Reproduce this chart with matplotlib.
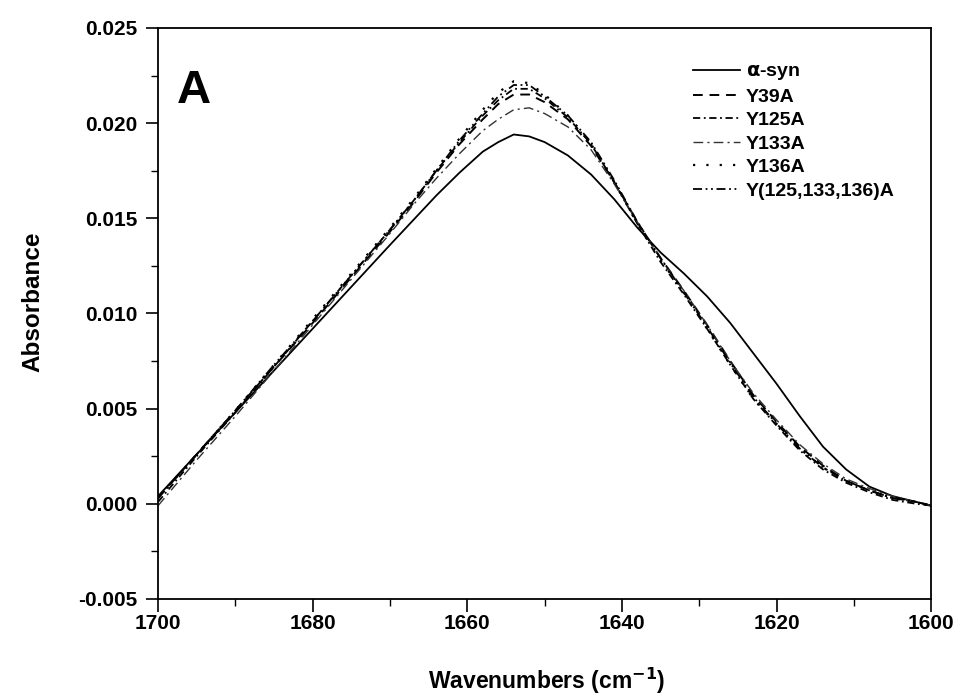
import numpy as np
import matplotlib
matplotlib.use("Agg")
import matplotlib.pyplot as plt
from matplotlib.ticker import MultipleLocator, FormatStrFormatter

plt.rcParams['font.family'] = ['Liberation Sans', 'DejaVu Sans']
plt.rcParams['font.weight'] = 'bold'
plt.rcParams['mathtext.default'] = 'bf'

# wavenumbers (cm-1)
wn = [1700, 1695, 1690, 1685, 1680, 1675, 1670, 1667, 1664, 1661, 1658, 1656,
      1654, 1652, 1650, 1647, 1644, 1641, 1638, 1635, 1632, 1629, 1626, 1623,
      1620, 1617, 1614, 1611, 1608, 1605, 1602, 1600]

asyn = [0.0004, 0.0026, 0.0048, 0.0070, 0.0092, 0.0114, 0.0136, 0.0149, 0.0162,
        0.0174, 0.0185, 0.0190, 0.0194, 0.0193, 0.0190, 0.0183, 0.0173, 0.0160,
        0.0145, 0.0132, 0.0121, 0.0109, 0.0095, 0.0079, 0.0063, 0.0046, 0.0030,
        0.0018, 0.0009, 0.0004, 0.0001, -0.0001]
y39a = [0.0003, 0.0026, 0.0049, 0.0072, 0.0095, 0.0119, 0.0143, 0.0158, 0.0174,
        0.0189, 0.0202, 0.0210, 0.0215, 0.0215, 0.0211, 0.0202, 0.0188, 0.0169,
        0.0148, 0.0129, 0.0112, 0.0094, 0.0075, 0.0057, 0.0043, 0.0030, 0.0020,
        0.0012, 0.0007, 0.0003, 0.0001, -0.0001]
y125a = [0.0001, 0.0025, 0.0048, 0.0072, 0.0096, 0.0120, 0.0144, 0.0159, 0.0175,
         0.0190, 0.0204, 0.0212, 0.0218, 0.0218, 0.0213, 0.0203, 0.0189, 0.0169,
         0.0147, 0.0127, 0.0110, 0.0092, 0.0073, 0.0055, 0.0041, 0.0028, 0.0018,
         0.0011, 0.0006, 0.0002, 0.0000, -0.0001]
y133a = [-0.0001, 0.0023, 0.0046, 0.0070, 0.0094, 0.0118, 0.0142, 0.0157, 0.0171,
         0.0184, 0.0196, 0.0202, 0.0207, 0.0208, 0.0205, 0.0198, 0.0186, 0.0168,
         0.0148, 0.0129, 0.0112, 0.0094, 0.0075, 0.0058, 0.0044, 0.0031, 0.0021,
         0.0013, 0.0008, 0.0004, 0.0001, -0.0001]
y136a = [0.0003, 0.0026, 0.0049, 0.0073, 0.0097, 0.0121, 0.0145, 0.0160, 0.0176,
         0.0192, 0.0207, 0.0216, 0.0222, 0.0221, 0.0215, 0.0204, 0.0189, 0.0169,
         0.0147, 0.0128, 0.0111, 0.0092, 0.0073, 0.0055, 0.0042, 0.0029, 0.0019,
         0.0012, 0.0007, 0.0003, 0.0001, -0.0001]
ytriple = [0.0003, 0.0026, 0.0049, 0.0073, 0.0096, 0.0120, 0.0144, 0.0159, 0.0175,
           0.0191, 0.0205, 0.0214, 0.0220, 0.0220, 0.0214, 0.0204, 0.0190, 0.0170,
           0.0148, 0.0129, 0.0111, 0.0093, 0.0074, 0.0056, 0.0042, 0.0029, 0.0019,
           0.0012, 0.0007, 0.0003, 0.0001, -0.0001]

labels = [r'$\alpha$-syn', 'Y39A', 'Y125A', 'Y133A', 'Y136A', 'Y(125,133,136)A']
series = [asyn, y39a, y125a, y133a, y136a, ytriple]
styles = ['-', (0, (5, 3.5)), (0, (4, 2, 1, 2)), (0, (7, 3, 1.5, 3)),
          (0, (1, 5)), (0, (5, 2, 1, 2, 1, 2))]
widths = [1.3, 1.4, 1.3, 1.0, 1.6, 1.3]
colors = ['black', 'black', 'black', '#333333', 'black', 'black']

fig = plt.figure(figsize=(9.64, 6.98), dpi=100)
ax = fig.add_axes([0.164, 0.142, 0.802, 0.818])

for ys, lab, ls, lw, c in zip(series, labels, styles, widths, colors):
    ax.plot(wn, ys, linestyle=ls, linewidth=lw, color=c, label=lab)

ax.set_xlim(1700, 1600)
ax.set_ylim(-0.005, 0.025)
ax.xaxis.set_major_locator(MultipleLocator(20))
ax.xaxis.set_minor_locator(MultipleLocator(10))
ax.yaxis.set_major_locator(MultipleLocator(0.005))
ax.yaxis.set_minor_locator(MultipleLocator(0.0025))
ax.yaxis.set_major_formatter(FormatStrFormatter('%.3f'))
ax.tick_params(which='major', direction='out', length=9, width=1.2, labelsize=15,
               top=False, right=False)
ax.tick_params(axis='y', which='major', pad=6)
ax.tick_params(axis='x', which='major', pad=2)
ax.tick_params(which='minor', direction='out', length=5, width=1.0,
               top=False, right=False)
for lab in ax.get_xticklabels() + ax.get_yticklabels():
    lab.set_fontweight('bold')
for s in ax.spines.values():
    s.set_linewidth(1.3)

ax.set_xlabel(r'Wavenumbers (cm$^{-1}$)', fontsize=16.5, fontweight='bold')
ax.set_ylabel('Absorbance', fontsize=17.5, fontweight='bold')
ax.xaxis.set_label_coords(0.502, -0.117)
ax.yaxis.set_label_coords(-0.147, 0.52)

ax.text(0.024, 0.869, 'A', transform=ax.transAxes, fontsize=34, fontweight='bold',
        va='baseline', ha='left')

leg = ax.legend(loc='upper left', bbox_to_anchor=(0.692, 0.939), frameon=False,
                prop={'size': 14, 'weight': 'bold'}, handlelength=2.42,
                handletextpad=0.3, labelspacing=0.3, borderpad=0,
                borderaxespad=0)

fig.savefig('out.png', dpi=100)
